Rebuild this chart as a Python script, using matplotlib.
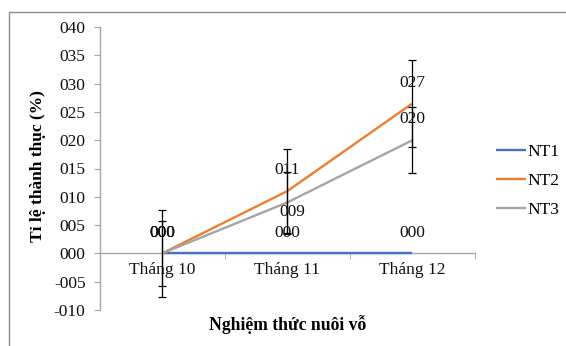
import matplotlib
matplotlib.use("Agg")
import matplotlib.pyplot as plt
from matplotlib.ticker import FixedLocator, FuncFormatter
from matplotlib.patches import Rectangle

# Data
months = ["Tháng 10", "Tháng 11", "Tháng 12"]
series_names = ["NT1", "NT2", "NT3"]
nt1 = [0.0, 0.0, 0.0]
nt2 = [0.0, 0.11, 0.265]
nt3 = [0.0, 0.09, 0.20]
nt2_err = [0.077, 0.075, 0.077]
nt3_err = [0.057, 0.054, 0.058]
y_ticks = [-0.10, -0.05, 0.0, 0.05, 0.10, 0.15, 0.20, 0.25, 0.30, 0.35, 0.40]

colors = ["#4472C4", "#ED7D31", "#A5A5A5"]
FONT = ["Liberation Serif", "DejaVu Serif"]
plt.rcParams["font.family"] = FONT


def no_dot(v):
    # numbers are printed with the decimal separator dropped, e.g. 0.27 -> 027
    return f"{v:.2f}".replace(".", "")


fig = plt.figure(figsize=(5.66, 3.46), dpi=100)
fig.patches.append(Rectangle((9 / 566, -0.1), 1.2, (346 - 12) / 346 + 0.1,
                             transform=fig.transFigure, fill=False,
                             edgecolor="#8c8c8c", linewidth=1.0))

ax = fig.add_axes([99.5 / 566, 36 / 346, 375.5 / 566, 283 / 346])
x = list(range(len(months)))

values = [nt1, nt2, nt3]
for name, vals, col in zip(series_names, values, colors):
    ax.plot(x, vals, color=col, linewidth=1.7, label=name, zorder=3,
            solid_capstyle="butt")

ax.errorbar(x, nt2, yerr=nt2_err, fmt="none", ecolor="black",
            elinewidth=0.9, capsize=3, capthick=0.9, zorder=4)
ax.errorbar(x, nt3, yerr=nt3_err, fmt="none", ecolor="black",
            elinewidth=0.9, capsize=3, capthick=0.9, zorder=4)

# value label offsets in points, per series and month
offsets = [
    [(0, 15), (0, 15), (0, 15)],
    [(0, 15), (0, 15), (0, 15)],
    [(0, 15), (4, -7), (0, 15)],
]
for si, vals in enumerate(values):
    for i, v in enumerate(vals):
        dx, dy = offsets[si][i]
        ax.annotate(no_dot(v), (i, v), xytext=(dx, dy),
                    textcoords="offset points", ha="center", va="center",
                    fontsize=12.5, color="#111111", zorder=5)

ax.set_xlim(-0.5, 2.5)
ax.set_ylim(-0.10, 0.40)

ax.yaxis.set_major_locator(FixedLocator(y_ticks))
ax.yaxis.set_major_formatter(FuncFormatter(lambda v, p: no_dot(v)))

ax.set_xticks(x)
ax.set_xticklabels(months)
ax.xaxis.set_minor_locator(FixedLocator([0.5, 1.5, 2.5]))

for s in ["top", "right"]:
    ax.spines[s].set_visible(False)
ax.spines["bottom"].set_position(("data", 0))
ax.spines["bottom"].set_color("#a6a6a6")
ax.spines["left"].set_color("#a6a6a6")
ax.spines["bottom"].set_linewidth(1.0)
ax.spines["left"].set_linewidth(1.0)

ax.tick_params(axis="y", which="major", direction="out", length=4,
               color="#a6a6a6", labelsize=12.5, pad=6, labelcolor="#111111")
ax.tick_params(axis="x", which="major", length=0, labelsize=12.5, pad=6,
               labelcolor="#111111")
ax.tick_params(axis="x", which="minor", direction="out", length=4,
               color="#a6a6a6")

fig.text(288 / 566, 1 - 325 / 346, "Nghiệm thức nuôi vỗ", ha="center",
         va="center", fontsize=12.7, fontweight="bold")
fig.text(38 / 566, 1 - 166 / 346, "Tỉ lệ thành thục (%)", ha="center",
         va="center", rotation=90, fontsize=12.5, fontweight="bold")

leg = fig.legend(loc="center left", bbox_to_anchor=(489 / 566, 1 - 181 / 346),
                 frameon=False, fontsize=12.5, handlelength=1.75,
                 handletextpad=0.05, labelspacing=0.72, borderaxespad=0)

fig.savefig("out.png", dpi=100)
